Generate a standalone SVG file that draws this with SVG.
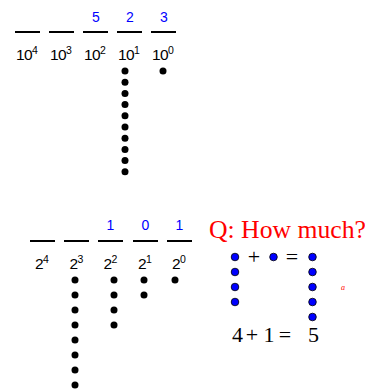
<svg xmlns="http://www.w3.org/2000/svg" width="365" height="391" viewBox="0 0 365 391">
<style>
.ln{stroke:#000;stroke-width:2;fill:none}
.d{fill:#0000ff;font-family:"Liberation Sans",Arial,sans-serif;font-size:14px;text-anchor:middle}
.lb{fill:#000;font-family:"Liberation Sans",Arial,sans-serif;font-size:15.5px;letter-spacing:-0.6px}
.sp{font-size:10.5px}
.k{fill:#000}
.b{fill:#0000ff;stroke:#000;stroke-width:0.8}
.s{font-family:"Liberation Serif","Times New Roman",serif;fill:#000;font-size:22px}
.r{font-family:"Liberation Serif","Times New Roman",serif;fill:#ff0000}
</style>
<g id="decimal">
<g id="dec-lines" class="ln">
<line x1="15" y1="32" x2="40" y2="32"/>
<line x1="49" y1="32" x2="74" y2="32"/>
<line x1="83" y1="32" x2="108" y2="32"/>
<line x1="117" y1="32" x2="142" y2="32"/>
<line x1="151" y1="32" x2="176" y2="32"/>
</g>
<text class="d" x="96" y="22">5</text>
<text class="d" x="130" y="22">2</text>
<text class="d" x="164" y="22">3</text>
<text class="lb" x="16" y="60">10<tspan class="sp" dy="-6.2">4</tspan></text>
<text class="lb" x="50" y="60">10<tspan class="sp" dy="-6.2">3</tspan></text>
<text class="lb" x="84" y="60">10<tspan class="sp" dy="-6.2">2</tspan></text>
<text class="lb" x="118" y="60">10<tspan class="sp" dy="-6.2">1</tspan></text>
<text class="lb" x="152" y="60">10<tspan class="sp" dy="-6.2">0</tspan></text>
<g class="k">
<circle cx="125" cy="71" r="3.5"/><circle cx="125" cy="82.2" r="3.5"/><circle cx="125" cy="93.4" r="3.5"/><circle cx="125" cy="104.6" r="3.5"/><circle cx="125" cy="115.8" r="3.5"/><circle cx="125" cy="127" r="3.5"/><circle cx="125" cy="138.2" r="3.5"/><circle cx="125" cy="149.4" r="3.5"/><circle cx="125" cy="160.6" r="3.5"/><circle cx="125" cy="171.8" r="3.5"/>
<circle cx="163" cy="71" r="3.5"/>
</g>
</g>
<g id="binary">
<g id="bin-lines" class="ln">
<line x1="30" y1="241" x2="55" y2="241"/>
<line x1="64" y1="241" x2="89" y2="241"/>
<line x1="98" y1="241" x2="123" y2="241"/>
<line x1="133" y1="241" x2="158" y2="241"/>
<line x1="167" y1="241" x2="192" y2="241"/>
</g>
<text class="d" x="110.5" y="230">1</text>
<text class="d" x="145.5" y="230">0</text>
<text class="d" x="179.5" y="230">1</text>
<text class="lb" x="35" y="269">2<tspan class="sp" dy="-6.2">4</tspan></text>
<text class="lb" x="69.5" y="269">2<tspan class="sp" dy="-6.2">3</tspan></text>
<text class="lb" x="103.5" y="269">2<tspan class="sp" dy="-6.2">2</tspan></text>
<text class="lb" x="138" y="269">2<tspan class="sp" dy="-6.2">1</tspan></text>
<text class="lb" x="172" y="269">2<tspan class="sp" dy="-6.2">0</tspan></text>
<g class="k">
<circle cx="75" cy="280" r="3.5"/><circle cx="75" cy="295" r="3.5"/><circle cx="75" cy="310" r="3.5"/><circle cx="75" cy="325" r="3.5"/><circle cx="75" cy="340" r="3.5"/><circle cx="75" cy="355" r="3.5"/><circle cx="75" cy="370" r="3.5"/><circle cx="75" cy="385" r="3.5"/>
<circle cx="114" cy="280" r="3.5"/><circle cx="114" cy="295" r="3.5"/><circle cx="114" cy="310" r="3.5"/><circle cx="114" cy="325" r="3.5"/>
<circle cx="144" cy="280" r="3.5"/><circle cx="144" cy="295" r="3.5"/>
<circle cx="175" cy="280" r="3.5"/>
</g>
</g>
<g id="question">
<text class="r" x="209" y="238" font-size="25.7">Q: How much?</text>
<g class="b">
<circle cx="235" cy="257" r="3.8"/><circle cx="235" cy="272" r="3.8"/><circle cx="235" cy="287" r="3.8"/><circle cx="235" cy="302" r="3.8"/>
<circle cx="273.5" cy="257" r="3.8"/>
<circle cx="312.5" cy="257" r="3.8"/><circle cx="312.5" cy="272" r="3.8"/><circle cx="312.5" cy="287" r="3.8"/><circle cx="312.5" cy="302" r="3.8"/><circle cx="312.5" cy="317" r="3.8"/>
</g>
<text class="s" x="254" y="264" text-anchor="middle">+</text>
<text class="s" x="292" y="264" text-anchor="middle">=</text>
<text class="s" x="232" y="342">4</text>
<text class="s" x="252" y="342" text-anchor="middle">+</text>
<text class="s" x="263.5" y="342">1</text>
<text class="s" x="285" y="342" text-anchor="middle">=</text>
<text class="s" x="313.5" y="342" text-anchor="middle">5</text>
<text class="r" x="341" y="290" font-size="8" font-style="italic">a</text>
</g>
</svg>
